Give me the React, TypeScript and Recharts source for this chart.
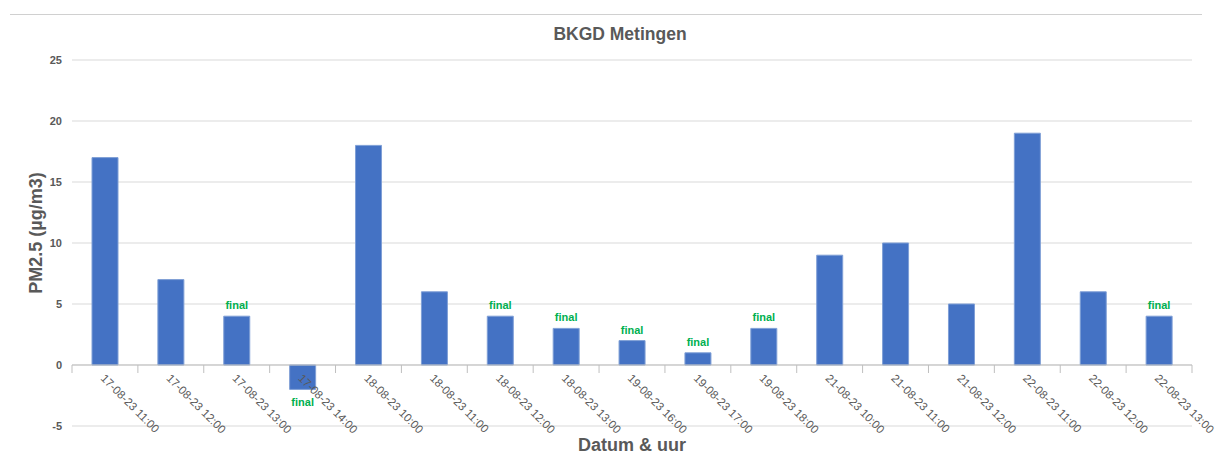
import React from 'react';
import { BarChart, Bar, XAxis, YAxis, CartesianGrid, ReferenceLine, LabelList } from 'recharts';

const categories = [
  '17-08-23 11:00', '17-08-23 12:00', '17-08-23 13:00', '17-08-23 14:00',
  '18-08-23 10:00', '18-08-23 11:00', '18-08-23 12:00', '18-08-23 13:00',
  '19-08-23 16:00', '19-08-23 17:00', '19-08-23 18:00', '21-08-23 10:00',
  '21-08-23 11:00', '21-08-23 12:00', '22-08-23 11:00', '22-08-23 12:00',
  '22-08-23 13:00',
];
const pm25 = [17, 7, 4, -2, 18, 6, 4, 3, 2, 1, 3, 9, 10, 5, 19, 6, 4];
const notes = ['', '', 'final', 'final', '', '', 'final', 'final', 'final', 'final', 'final', '', '', '', '', '', 'final'];
const yTicks = [-5, 0, 5, 10, 15, 20, 25];

const data = categories.map((c, i) => ({ cat: c, value: pm25[i], note: notes[i] }));

const W = 1216;
const H = 453;
const XH = 27;
const M = { top: 60, right: 24, bottom: 0, left: 0 };
const YW = 72;
const PLOT_H = H - M.top - M.bottom - XH;
const PLOT_W = W - M.left - M.right - YW;
const Y_MIN = -5;
const Y_MAX = 25;
const ZERO_OFFSET = (PLOT_H * (0 - Y_MIN)) / (Y_MAX - Y_MIN);
const BAND = PLOT_W / categories.length;
const FONT = '"Liberation Sans", Arial, sans-serif';

const XTick = (props: any) => {
  const { x, y, payload, index } = props;
  const zy = y - ZERO_OFFSET;
  const ax = x - 5;
  const ay = zy + 14;
  return (
    <g>
      <line x1={x - BAND / 2} x2={x - BAND / 2} y1={zy} y2={zy + 8} stroke="#bfbfbf" />
      {index === categories.length - 1 && (
        <line x1={x + BAND / 2} x2={x + BAND / 2} y1={zy} y2={zy + 8} stroke="#bfbfbf" />
      )}
      <text
        x={ax}
        y={ay}
        transform={`rotate(45, ${ax}, ${ay})`}
        textAnchor="start"
        fill="#595959"
        fontSize={11.5}
        fontFamily={FONT}
      >
        {payload.value}
      </text>
    </g>
  );
};

const NoteLabel = (props: any) => {
  const { x, y, width, height, value, index } = props;
  if (!value) return null;
  const top = Math.min(y, y + height);
  const bottom = Math.max(y, y + height);
  const neg = pm25[index] < 0;
  return (
    <text
      x={x + width / 2}
      y={neg ? bottom + 17 : top - 7}
      textAnchor="middle"
      fill="#00B050"
      fontSize={11}
      fontWeight="bold"
      fontFamily={FONT}
    >
      {value}
    </text>
  );
};

export default function App() {
  return (
    <div style={{ position: 'absolute', left: 0, top: 0, width: W, height: H, background: '#fff', fontFamily: FONT }}>
      <div style={{ position: 'absolute', left: 10, right: 14, top: 14, borderTop: '1px solid #d0d0d0' }} />
      <div
        style={{
          position: 'absolute', left: 12, width: W, top: 24, textAlign: 'center',
          fontSize: 17.5, fontWeight: 'bold', color: '#595959',
        }}
      >
        BKGD Metingen
      </div>
      <div
        style={{
          position: 'absolute', left: 36, top: 233, transform: 'translate(-50%, -50%) rotate(-90deg)',
          whiteSpace: 'nowrap', fontSize: 18, fontWeight: 'bold', color: '#595959',
        }}
      >
        PM2.5 (µg/m3)
      </div>
      <div style={{ position: 'absolute', left: 0, top: 0 }}>
        <BarChart width={W} height={H} data={data} margin={M} barSize={26}>
          <CartesianGrid vertical={false} stroke="#d9d9d9" />
          <XAxis
            dataKey="cat"
            height={XH}
            axisLine={false}
            tickLine={false}
            tickSize={0}
            tickMargin={0}
            interval={0}
            tick={<XTick />}
          />
          <YAxis
            width={YW}
            domain={[Y_MIN, Y_MAX]}
            ticks={yTicks}
            axisLine={false}
            tickLine={false}
            tickSize={0}
            tickMargin={10}
            tick={{ fill: '#595959', fontSize: 11, fontWeight: 'bold', fontFamily: FONT }}
          />
          <ReferenceLine y={0} stroke="#bfbfbf" />
          <Bar dataKey="value" fill="#4472C4" stroke="#7f9fd6" strokeWidth={1} isAnimationActive={false}>
            <LabelList dataKey="note" content={<NoteLabel />} />
          </Bar>
        </BarChart>
      </div>
      <div
        style={{
          position: 'absolute', left: 0, width: 1264, top: 435, textAlign: 'center',
          fontSize: 18, fontWeight: 'bold', color: '#595959',
        }}
      >
        Datum &amp; uur
      </div>
    </div>
  );
}
